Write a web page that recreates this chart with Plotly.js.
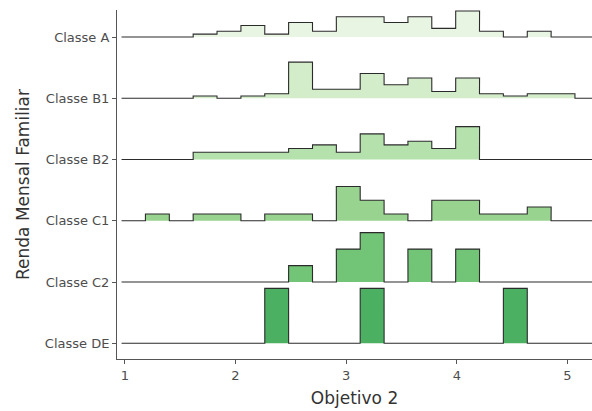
<!DOCTYPE html>
<html>
<head>
<meta charset="utf-8">
<script src="https://cdn.plot.ly/plotly-3.0.1.min.js"></script>
<style>html,body{margin:0;padding:0;background:#fff;}#chart{width:592px;height:411px;}</style>
</head>
<body>
<div id="chart"></div>
<script>
// Histogram bins (centres) shared by all groups
const binCenters = [1.078,1.294,1.510,1.725,1.941,2.157,2.372,2.588,2.804,3.019,3.235,3.451,3.666,3.882,4.098,4.313,4.529,4.745,4.960,5.176];
const binWidth = 0.2157;

// Category labels (bottom to top)
const classes = ["Classe DE","Classe C2","Classe C1","Classe B2","Classe B1","Classe A"];

// Counts per bin for each class
const countsA  = [0,0,0,1,2,4,1,5,2,7,7,5,7,3,9,2,0,2,0,0];
const countsB1 = [0,0,0,1,0,1,2,16,4,4,11,6,9,3,9,2,1,2,2,0];
const countsB2 = [0,0,0,2,2,2,2,3,4,2,7,4,5,3,9,0,0,0,0,0];
const countsC1 = [0,1,0,1,1,0,1,1,0,5,3,1,0,3,3,1,1,2,0,0];
const countsC2 = [0,0,0,0,0,0,0,1,0,2,3,0,2,0,2,0,0,0,0,0];
const countsDE = [0,0,0,0,0,0,1,0,0,0,1,0,0,0,0,0,1,0,0,0];

const fills = {
  "Classe A":"#e8f5e2","Classe B1":"#d3ecca","Classe B2":"#b5e1ac",
  "Classe C1":"#98d490","Classe C2":"#72c476","Classe DE":"#4bb062"
};
const countsBy = {
  "Classe A":countsA,"Classe B1":countsB1,"Classe B2":countsB2,
  "Classe C1":countsC1,"Classe C2":countsC2,"Classe DE":countsDE
};
const scale = 2.69; // ridge height per unit of relative frequency

function stepTrace(name, base){
  const c = countsBy[name];
  const n = c.reduce((a,b)=>a+b,0);
  const xs = [], ys = [];
  const e0 = binCenters[0]-binWidth/2;
  xs.push(e0); ys.push(base);
  c.forEach((v,i)=>{
    const l = binCenters[i]-binWidth/2, r = binCenters[i]+binWidth/2;
    const h = base + v/n*scale;
    xs.push(l); ys.push(h);
    xs.push(r); ys.push(h);
  });
  xs.push(binCenters[binCenters.length-1]+binWidth/2); ys.push(base);
  return {x:xs,y:ys,type:'scatter',mode:'lines',fill:'toself',fillcolor:fills[name],
    line:{color:'#2b2b2b',width:1.1},hoverinfo:'skip',showlegend:false};
}

const traces = [];
for (let i = classes.length-1; i >= 0; i--) traces.push(stepTrace(classes[i], i));

const layout = {
  width:592,height:411,
  margin:{l:117,r:0,t:10,b:52},
  paper_bgcolor:'#fff',plot_bgcolor:'#fff',
  font:{family:'DejaVu Sans, sans-serif',color:'#4d4d4d',size:13},
  xaxis:{range:[0.929,5.222],tickvals:[1,2,3,4,5],ticktext:['1','2','3','4','5'],
    showgrid:false,zeroline:false,showline:true,linecolor:'#555',linewidth:1,
    ticks:'outside',ticklen:4,tickcolor:'#555',tickfont:{size:13,color:'#4d4d4d'},
    title:{text:'Objetivo 2',font:{size:17,color:'#333'},standoff:10}},
  yaxis:{range:[-0.256,5.441],tickvals:[0,1,2,3,4,5],ticktext:classes,
    showgrid:false,zeroline:false,showline:true,linecolor:'#555',linewidth:1,
    ticks:'outside',ticklen:4,tickcolor:'#555',tickfont:{size:13,color:'#4d4d4d'},
    title:{text:'Renda Mensal Familiar',font:{size:17,color:'#333'},standoff:10}}
};
Plotly.newPlot('chart',traces,layout,{displayModeBar:false,staticPlot:true});
</script>
</body>
</html>
